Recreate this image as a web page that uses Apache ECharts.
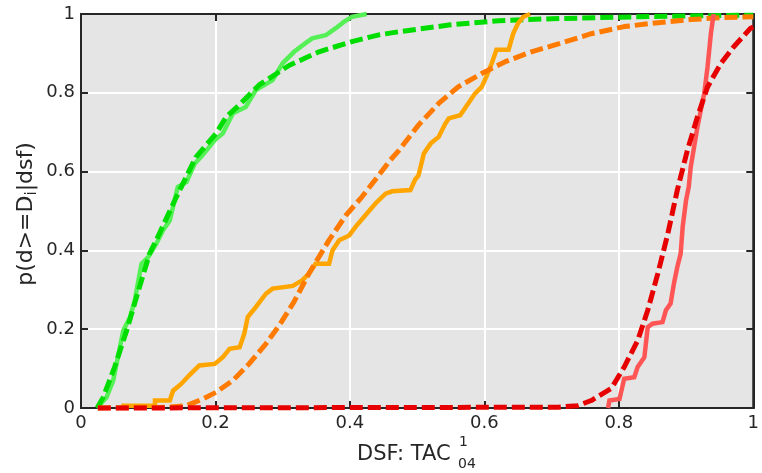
<!DOCTYPE html>
<html>
<head>
<meta charset="utf-8">
<script src="https://cdn.jsdelivr.net/npm/echarts@6/dist/echarts.min.js"></script>
<style>
  html, body { margin: 0; padding: 0; background: #ffffff; }
  #chart { width: 762px; height: 473px; }
</style>
</head>
<body>
<div id="chart"></div>
<script>
// Axis ticks
const xTicks = [0, 0.2, 0.4, 0.6, 0.8, 1];
const yTicks = [0, 0.2, 0.4, 0.6, 0.8, 1];

// Empirical exceedance curves [dsf, probability]
const greenEmpirical = [
  [0.024, 0.0], [0.038, 0.027], [0.048, 0.07], [0.055, 0.13], [0.06, 0.172], [0.063, 0.197],
  [0.073, 0.231], [0.08, 0.273], [0.085, 0.32], [0.09, 0.366], [0.10, 0.383], [0.112, 0.417],
  [0.122, 0.451], [0.132, 0.476], [0.144, 0.561], [0.157, 0.574], [0.169, 0.62], [0.181, 0.642],
  [0.199, 0.68], [0.211, 0.697], [0.226, 0.748], [0.245, 0.764], [0.26, 0.807], [0.285, 0.832],
  [0.30, 0.875], [0.317, 0.904], [0.334, 0.926], [0.344, 0.938], [0.364, 0.946], [0.379, 0.964],
  [0.391, 0.98], [0.403, 0.993], [0.425, 1.0]
];
const orangeEmpirical = [
  [0.06, 0.006], [0.11, 0.006], [0.11, 0.019], [0.132, 0.019], [0.137, 0.044], [0.149, 0.061],
  [0.161, 0.083], [0.176, 0.108], [0.199, 0.112], [0.211, 0.129], [0.221, 0.15], [0.236, 0.154],
  [0.243, 0.189], [0.248, 0.231], [0.26, 0.256], [0.275, 0.29], [0.285, 0.303], [0.315, 0.31],
  [0.329, 0.324], [0.339, 0.341], [0.349, 0.366], [0.369, 0.366], [0.374, 0.40], [0.384, 0.426],
  [0.399, 0.438], [0.408, 0.459], [0.423, 0.489], [0.438, 0.519], [0.453, 0.544], [0.463, 0.55],
  [0.49, 0.553], [0.497, 0.58], [0.502, 0.59], [0.51, 0.646], [0.52, 0.671], [0.532, 0.688],
  [0.542, 0.722], [0.547, 0.735], [0.564, 0.743], [0.576, 0.773], [0.586, 0.798], [0.596, 0.815],
  [0.603, 0.841], [0.611, 0.875], [0.618, 0.909], [0.636, 0.909], [0.643, 0.951], [0.65, 0.976],
  [0.658, 0.993], [0.668, 1.0]
];
const redEmpirical = [
  [0.784, 0.0], [0.786, 0.019], [0.801, 0.023], [0.808, 0.074], [0.823, 0.078], [0.828, 0.104],
  [0.838, 0.129], [0.843, 0.205], [0.85, 0.214], [0.865, 0.218], [0.87, 0.248], [0.877, 0.265],
  [0.882, 0.316], [0.887, 0.358], [0.892, 0.392], [0.895, 0.46], [0.9, 0.527], [0.904, 0.561],
  [0.907, 0.612], [0.912, 0.663], [0.917, 0.714], [0.922, 0.756], [0.927, 0.798], [0.932, 0.866],
  [0.937, 0.951], [0.941, 1.0]
];

// Fitted distribution curves [dsf, probability]
const greenFit = [
  [0.024, 0.0], [0.033, 0.027], [0.05, 0.104], [0.068, 0.197], [0.087, 0.307], [0.102, 0.392],
  [0.112, 0.426], [0.142, 0.536], [0.171, 0.637], [0.201, 0.697], [0.216, 0.739], [0.236, 0.77],
  [0.265, 0.82], [0.31, 0.87], [0.354, 0.904], [0.403, 0.93], [0.443, 0.947], [0.473, 0.955],
  [0.547, 0.972], [0.621, 0.983], [0.7, 0.988], [0.8, 0.992], [0.9, 0.995], [1.0, 0.997]
];
const orangeFit = [
  [0.025, 0.0], [0.127, 0.002], [0.157, 0.006], [0.181, 0.023], [0.201, 0.04], [0.226, 0.07],
  [0.25, 0.112], [0.275, 0.163], [0.295, 0.21], [0.317, 0.27], [0.339, 0.341], [0.369, 0.426],
  [0.394, 0.489], [0.418, 0.536], [0.443, 0.591], [0.46, 0.629], [0.473, 0.654], [0.502, 0.718],
  [0.532, 0.773], [0.561, 0.815], [0.596, 0.849], [0.631, 0.879], [0.67, 0.904], [0.71, 0.924],
  [0.759, 0.95], [0.808, 0.968], [0.858, 0.978], [0.907, 0.986], [0.957, 0.991], [1.0, 0.993]
];
const redFit = [
  [0.025, 0.0], [0.71, 0.002], [0.739, 0.006], [0.759, 0.019], [0.789, 0.05], [0.808, 0.104],
  [0.828, 0.171], [0.843, 0.248], [0.858, 0.341], [0.873, 0.443], [0.887, 0.553], [0.902, 0.654],
  [0.917, 0.739], [0.932, 0.815], [0.952, 0.875], [0.971, 0.917], [0.996, 0.964], [1.0, 0.967]
];

const INK = '#262626';
const FONT = 'DejaVu Sans';
const fitDash = [13, 5];

function empiricalSeries(data, color) {
  return {
    type: 'line', data: data, showSymbol: false, symbol: 'none', clip: false,
    lineStyle: { color: color, width: 4.5, cap: 'butt', join: 'miter' },
    emphasis: { disabled: true }, animation: false
  };
}
function fitSeries(data, color) {
  return {
    type: 'line', data: data, showSymbol: false, symbol: 'none', clip: false,
    lineStyle: { color: color, width: 5, type: fitDash, cap: 'butt' },
    emphasis: { disabled: true }, animation: false
  };
}

function valueAxis(ticks, position, primary) {
  const step = ticks[1] - ticks[0];
  return {
    type: 'value', position: position,
    min: ticks[0], max: ticks[ticks.length - 1], interval: step,
    axisLine: { show: true, onZero: false, lineStyle: { color: INK, width: 2 } },
    axisTick: { show: true, inside: true, length: 7, lineStyle: { color: INK, width: 2 } },
    axisLabel: primary
      ? { show: true, fontSize: 18, fontFamily: FONT, color: INK, margin: 6 }
      : { show: false },
    splitLine: primary ? { show: true, lineStyle: { color: '#ffffff', width: 2 } } : { show: false }
  };
}

const chart = echarts.init(document.getElementById('chart'), null, { renderer: 'canvas' });
chart.setOption({
  animation: false,
  backgroundColor: '#ffffff',
  grid: {
    left: 81, right: 7, top: 14, bottom: 65,
    show: true, backgroundColor: '#e5e5e5', borderColor: INK, borderWidth: 2
  },
  xAxis: [valueAxis(xTicks, 'bottom', true), valueAxis(xTicks, 'top', false)],
  yAxis: [valueAxis(yTicks, 'left', true), valueAxis(yTicks, 'right', false)],
  series: [
    empiricalSeries(greenEmpirical, '#55f055'),
    fitSeries(greenFit, '#00dd00'),
    empiricalSeries(orangeEmpirical, '#ffa500'),
    fitSeries(orangeFit, '#ff7a00'),
    empiricalSeries(redEmpirical, '#ff5555'),
    fitSeries(redFit, '#e60000')
  ],
  graphic: [
    {
      type: 'text', x: 26, y: 214, rotation: Math.PI / 2,
      style: {
        text: '{m|p(d>=D}{s|i}{m||dsf)}',
        align: 'center', verticalAlign: 'middle',
        rich: {
          m: { fontSize: 22, fontFamily: FONT, fill: INK, lineHeight: 28 },
          s: { fontSize: 15, fontFamily: FONT, fill: INK, lineHeight: 15, verticalAlign: 'bottom' }
        }
      }
    },
    {
      type: 'text', x: 357, y: 455,
      style: { text: 'DSF: TAC', fontSize: 21, fontFamily: FONT, fill: INK, align: 'left', verticalAlign: 'middle' }
    },
    {
      type: 'text', x: 459, y: 442,
      style: { text: '1', fontSize: 14, fontFamily: FONT, fill: INK, align: 'left', verticalAlign: 'middle' }
    },
    {
      type: 'text', x: 458, y: 464,
      style: { text: '04', fontSize: 14, fontFamily: FONT, fill: INK, align: 'left', verticalAlign: 'middle' }
    }
  ]
});
</script>
</body>
</html>
